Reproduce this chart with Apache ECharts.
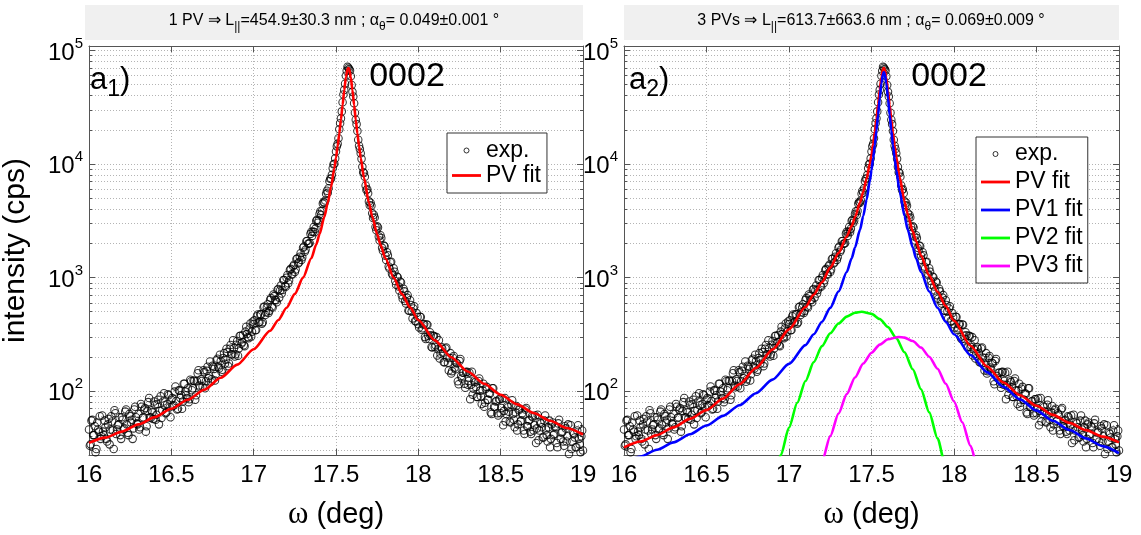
<!DOCTYPE html>
<html><head><meta charset="utf-8">
<script src="https://cdn.jsdelivr.net/npm/echarts@6/dist/echarts.min.js"></script>
<style>html,body{margin:0;padding:0;background:#fff}#c{width:1141px;height:535px}</style>
</head><body><div id="c"></div>
<script>
// ---- data ----
const omegaStart = 16.0;   // deg, first measured point
const omegaStep = 0.01;    // deg, grid step of each interleaved scan
const omegaOffsetB = 0.005; // deg, second interleaved set is shifted by half a step
const expScanA = [
46,34,56,41,29,53,44,38,61,41,
48,36,57,46,54,31,64,46,51,41,
59,46,66,51,41,60,56,47,73,52,
63,48,73,59,71,49,80,59,68,57,
76,62,84,67,58,81,75,65,94,72,
84,
74,99,82,70,101,92,81,116,92,106,
85,122,106,123,92,144,112,127,110,147,
122,164,136,121,167,157,141,193,158,184,
154,216,189,220,175,255,210,239,211,276,
238,307,269,253,334,319,292,394,334,389,
343,456,403,476,393,548,469,544,487,636,
556,709,636,605,794,768,725,953,842,996,
891,1163,1068,1260,1118,1454,1330,1525,1431,1833,
1686,2087,1981,2015,2531,2536,2511,3155,3040,3632,
3560,4477,4552,5465,5579,7051,7452,9164,10038,12869,
15031,20234,25193,34948,44897,59771,71896,68426,59179,43145,
34272,24474,19471,14474,12403,
9430,8312,6468,5987,4684,4565,3682,3577,2783,2832,
2300,2362,1826,1918,1556,1673,1250,1361,1086,1208,
931,1023,834,924,698,796,623,666,512,632,
504,534,414,488,389,
452,347,386,299,386,307,330,245,307,245,
299,234,194,245,218,180,242,178,196,143,
197,161,178,122,184,136,145,116,147,114,
145,114,93,124,109,89,129,90,102,73,
105,84,96,65,106,73,81,64,85,64,
86,67,54,74,66,53,83,56,65,45,
68,54,64,45,69,49,55,44,60,45,
61,47,37,53,48,39,61,41,48,32,
51,41,49,35,52,26,43,36,49,36,
51,27,31,43,39,32,50,34,40,30
];
const expScanB = [
33,55,41,49,31,46,60,40,44,55,
38,51,34,60,45,68,42,50,59,38,
56,47,69,43,63,53,38,69,59,51,
46,77,58,69,44,67,87,58,65,81,
56,77,51,90,68,96,64,77,92,59,
87,75,110,69,102,87,70,116,99,87,
80,126,102,124,84,122,153,108,123,153,
106,151,130,182,127,164,124,187,164,209,
148,196,174,236,166,236,211,280,202,256,
205,306,261,312,249,369,299,356,303,411,
420,346,473,406,474,405,556,495,583,509,
662,544,686,631,782,666,850,778,952,830,
1053,947,1192,1065,1295,1179,1469,1360,1635,1512,
1877,1760,2097,1988,2425,2327,2789,2695,3226,3176,
3839,3860,4631,4767,5808,6124,7397,8019,9934,11201,
14292,16873,22853,29034,40867,50912,66039,70340,66357,49671,
39298,28200,22421,16321,13570,
11091,8462,7705,5888,5514,4332,4287,3348,3384,2614,
2759,2117,2230,1724,1886,1428,1570,1202,1379,1047,
1124,866,1008,770,904,652,756,590,700,510,
574,437,558,411,450,
363,450,358,389,288,384,288,311,242,305,
253,206,280,213,236,180,237,198,152,216,
150,204,156,175,115,192,129,145,107,148,
123,85,148,105,120,89,123,101,77,116,
79,109,84,95,63,106,72,82,61,85,
71,50,87,63,72,54,76,63,48,74,
51,70,55,62,42,71,49,56,42,59,
50,35,62,45,52,39,55,46,36,55,
38,53,42,48,32,56,38,44,33,47,
40,28,50,36,42,32,45,38,29,45
];
const fitOmega = [16.0,16.1,16.2,16.3,16.4,16.5,16.6,16.7,16.8,16.9,17.0,17.1,17.15,17.2,17.25,17.3,
  17.35,17.38,17.4,17.43,17.45,17.47,17.49,
  17.5,17.51,17.52,17.53,17.54,17.55,17.56,17.57,17.575,
  17.58,17.59,17.6,17.61,17.62,17.63,17.64,17.65,
  17.67,17.7,17.72,17.75,17.77,17.8,17.85,17.9,17.95,
  18.0,18.1,18.2,18.3,18.4,18.5,18.6,18.7,18.8,18.9,19.0];
const pvFit1 = [35,39,44,51,59,70,84,103,131,171,234,340,423,542,718,998,
  1478,1953,2408,3451,4565,6297,9172,
  11358,14348,18533,24483,32945,44479,58019,68433,70004,
  68433,58019,44479,32945,24483,18533,14348,11358,
  7540,4565,3451,2408,1953,1478,998,718,546,
  423,280,199,149,116,93,76.5,64.2,54.8,47.4,41.5];
const pvFit3 = [32,36,41,48,57,68,86,115,160,232,350,550,707,910,1222,1640,
  2300,2850,3400,4550,5700,7400,10100,
  12000,14900,19100,25000,33500,44800,58000,68500,70000,
  68300,57500,43900,32900,24600,18800,14600,11600,
  7700,4700,3600,2550,2100,1560,1040,750,560,
  416,251,165,119,92,74.3,61.8,52.5,45.4,39.8,35.4];
const pv1Fit = [23.2,26.5,30.5,35.4,41.7,49.8,60.6,75.2,95.8,126.2,173.8,254.3,317,408,541,753,
  1119,1480,1839,2627,3486,4830,7088,
  8828,11240,14676,19692,27107,37780,51200,62270,64000,
  62270,51200,37780,27107,19692,14676,11240,8828,
  5803,3486,2627,1839,1480,1119,753,542,408,
  317,208,147,109,84.5,67.3,54.8,45.5,38.4,32.8,28.4];
const pv2Omega = [16.85,16.9,16.95,17.0,17.05,17.1,17.15,17.2,17.25,17.3,17.35,17.4,17.44,17.5,17.55,17.6,17.65,17.7,17.75,17.8,17.85,17.9,17.95,18.0];
const pv2Fit = [7.3,14.5,27.2,47.7,79,123,180,249,323,394,453,490,500,479,432,366,293,220,156,104,65,38.4,21.3,11.1];
const pv3Omega = [17.1,17.15,17.2,17.25,17.3,17.35,17.4,17.45,17.5,17.55,17.6,17.665,17.7,17.75,17.8,17.85,17.9,17.95,18.0,18.05,18.1,18.15,18.2];
const pv3Fit = [7.2,13.6,24,40.2,63.4,94.2,132,175,218,257,286,300,296,276,242,201,157.5,116,81,53.2,33,19.2,10.6];
const xTickValues = [16,16.5,17,17.5,18,18.5,19];
const yDecades = [100,1000,10000,100000];
const panelTitles = [
  '1 PV \u21D2 L{sub|||}=454.9\u00B130.3 nm ; \u03B1{sub|\u03B8}= 0.049\u00B10.001 \u00B0',
  '3 PVs \u21D2 L{sub|||}=613.7\u00B1663.6 nm ; \u03B1{sub|\u03B8}= 0.069\u00B10.009 \u00B0'
];
const panelTags = ['{a|a}{s|1}{a|)}', '{a|a}{s|2}{a|)}'];
const reflection = '0002';

// ---- build ----
const FF = '"Liberation Sans", Arial, Helvetica, sans-serif';
const expData = [];
expScanA.forEach((v, i) => {
  expData.push([+(omegaStart + i * omegaStep).toFixed(3), v]);
  if (i < expScanB.length) expData.push([+(omegaStart + omegaOffsetB + i * omegaStep).toFixed(3), expScanB[i]]);
});
const zip = (xs, ys) => xs.map((x, i) => [x, ys[i]]);
const YMIN = 27.4, YMAX = 109300;
const AX = '#555';
const gridStyle = {color: '#b4b4b4', type: [1, 2], width: 1};
const LINE_ICON = 'path://M0,0 L29,0 L29,2.8 L0,2.8 Z';

const grids = [
  {left: 85, top: 46, width: 498, height: 421},
  {left: 624, top: 46, width: 495, height: 421}
];

function xAxesFor(gi) {
  return [
    {type: 'value', gridIndex: gi, min: 16, max: 19, interval: 0.5, position: 'bottom',
     axisLine: {show: true, onZero: false, lineStyle: {color: AX, width: 1}},
     axisTick: {show: true, inside: true, length: 6, lineStyle: {color: AX}},
     axisLabel: {color: '#000', fontSize: 24, fontFamily: FF, margin: 8,
       formatter: v => xTickValues.indexOf(v) >= 0 ? String(v) : ''},
     splitLine: {show: true, lineStyle: gridStyle},
     name: '{w|\u03C9} (deg)', nameLocation: 'middle', nameGap: 44,
     nameTextStyle: {color: '#000', fontSize: 29, fontFamily: FF,
       rich: {w: {fontFamily: '"Liberation Serif", "DejaVu Serif", serif', fontSize: 31, color: '#000'}}}},
    {type: 'value', gridIndex: gi, min: 16, max: 19, interval: 0.5, position: 'top',
     axisLine: {show: true, onZero: false, lineStyle: {color: AX, width: 1}},
     axisTick: {show: true, inside: true, length: 6, lineStyle: {color: AX}},
     axisLabel: {show: false}, splitLine: {show: false}}
  ];
}
function yLabel(v) {
  for (const d of yDecades) {
    if (Math.abs(v - d) < 1e-6 * d) return '{b|10}{s|' + Math.round(Math.log10(d)) + '}';
  }
  return '';
}
function yAxesFor(gi, withName) {
  const a = {type: 'log', logBase: 10, gridIndex: gi, min: YMIN, max: YMAX, position: 'left',
     axisLine: {show: true, onZero: false, lineStyle: {color: AX, width: 1}},
     axisTick: {show: true, inside: true, length: 6, lineStyle: {color: AX}},
     minorTick: {show: true, splitNumber: 9, length: 3, lineStyle: {color: AX}},
     axisLabel: {color: '#000', margin: 6, formatter: yLabel,
       rich: {b: {fontSize: 24, fontFamily: FF, color: '#000', verticalAlign: 'bottom'},
              s: {fontSize: 15, fontFamily: FF, color: '#000', verticalAlign: 'bottom', padding: [0, 0, 14, 0]}}},
     splitLine: {show: true, lineStyle: gridStyle},
     minorSplitLine: {show: true, lineStyle: gridStyle}};
  if (withName) {
    a.name = 'intensity (cps)'; a.nameLocation = 'middle'; a.nameGap = 58;
    a.nameTextStyle = {color: '#000', fontSize: 30, fontFamily: FF};
  }
  const b = {type: 'log', logBase: 10, gridIndex: gi, min: YMIN, max: YMAX, position: 'right',
     axisLine: {show: true, onZero: false, lineStyle: {color: AX, width: 1}},
     axisTick: {show: true, inside: true, length: 6, lineStyle: {color: AX}},
     minorTick: {show: true, splitNumber: 9, length: 3, lineStyle: {color: AX}},
     axisLabel: {show: false}, splitLine: {show: false}, minorSplitLine: {show: false}};
  return [a, b];
}

const expSeries = (xi, yi) => ({
  name: 'exp.', type: 'scatter', xAxisIndex: xi, yAxisIndex: yi, data: expData,
  symbol: 'circle', symbolSize: 7.5, silent: true, large: false,
  itemStyle: {color: 'rgba(0,0,0,0)', borderColor: '#000', borderWidth: 1.05}, z: 2
});
const lineSeries = (name, xi, yi, data, color, z) => ({
  name, type: 'line', xAxisIndex: xi, yAxisIndex: yi, data, showSymbol: false, symbol: 'none',
  smooth: 0.25, smoothMonotone: 'x', silent: true, clip: true,
  lineStyle: {color, width: 2.6}, itemStyle: {color}, z
});
const lineItem = (name, color) => ({name, icon: LINE_ICON, itemStyle: {color, borderWidth: 0}});
const expItem = {name: 'exp.', icon: 'circle', itemStyle: {color: '#fff', borderColor: '#000', borderWidth: 1}};

const legendBase = {orient: 'vertical', backgroundColor: '#fff', borderColor: '#333', borderWidth: 1,
  itemWidth: 29, itemHeight: 5, itemGap: 0, selectedMode: false, symbolKeepAspect: true,
  textStyle: {fontSize: 23, fontFamily: FF, color: '#000'}};

const option = {
  animation: false,
  backgroundColor: '#fff',
  grid: grids,
  xAxis: [...xAxesFor(0), ...xAxesFor(1)],
  yAxis: [...yAxesFor(0, true), ...yAxesFor(1, false)],
  legend: [
    Object.assign({}, legendBase, {left: 447, top: 133, padding: [5, 6, 5, 5],
      textStyle: Object.assign({}, legendBase.textStyle, {lineHeight: 25}),
      data: [expItem, lineItem('PV fit', '#ff0000')]}),
    Object.assign({}, legendBase, {left: 976, top: 137, padding: [3, 5, 3, 5],
      textStyle: Object.assign({}, legendBase.textStyle, {lineHeight: 28}),
      data: [expItem, lineItem('PV fit', '#ff0000'), lineItem('PV1 fit', '#0000ff'),
             lineItem('PV2 fit', '#00ff00'), lineItem('PV3 fit', '#ff00ff')]})
  ],
  graphic: [
    {type: 'rect', shape: {x: 85, y: 5, width: 498, height: 35}, style: {fill: '#f0f0f0'}, silent: true},
    {type: 'rect', shape: {x: 624, y: 5, width: 495, height: 35}, style: {fill: '#f0f0f0'}, silent: true},
    {type: 'text', x: 334, y: 21, silent: true, style: {text: panelTitles[0], align: 'center', verticalAlign: 'middle',
      fontSize: 16, fontFamily: FF, fill: '#000',
      rich: {sub: {fontSize: 12, fontFamily: FF, fill: '#000', padding: [12, 0, 0, 0]}}}},
    {type: 'text', x: 871, y: 21, silent: true, style: {text: panelTitles[1], align: 'center', verticalAlign: 'middle',
      fontSize: 16, fontFamily: FF, fill: '#000',
      rich: {sub: {fontSize: 12, fontFamily: FF, fill: '#000', padding: [12, 0, 0, 0]}}}},
    {type: 'text', x: 90, y: 80, silent: true, z: 10, style: {text: panelTags[0], align: 'left', verticalAlign: 'middle',
      fill: '#000', rich: {a: {fontSize: 31, fontFamily: FF, fill: '#000'}, s: {fontSize: 23, fontFamily: FF, fill: '#000', padding: [20, 0, 0, 0]}}}},
    {type: 'text', x: 629, y: 80, silent: true, z: 10, style: {text: panelTags[1], align: 'left', verticalAlign: 'middle',
      fill: '#000', rich: {a: {fontSize: 31, fontFamily: FF, fill: '#000'}, s: {fontSize: 23, fontFamily: FF, fill: '#000', padding: [20, 0, 0, 0]}}}},
    {type: 'text', x: 407, y: 77, silent: true, z: 10, style: {text: reflection, align: 'center', verticalAlign: 'middle',
      fontSize: 34, fontFamily: FF, fill: '#000'}},
    {type: 'text', x: 949, y: 77, silent: true, z: 10, style: {text: reflection, align: 'center', verticalAlign: 'middle',
      fontSize: 34, fontFamily: FF, fill: '#000'}}
  ],
  series: [
    expSeries(0, 0),
    lineSeries('PV fit', 0, 0, zip(fitOmega, pvFit1), '#ff0000', 5),
    expSeries(2, 2),
    lineSeries('PV fit', 2, 2, zip(fitOmega, pvFit3), '#ff0000', 5),
    lineSeries('PV1 fit', 2, 2, zip(fitOmega, pv1Fit), '#0000ff', 6),
    lineSeries('PV2 fit', 2, 2, zip(pv2Omega, pv2Fit), '#00ff00', 7),
    lineSeries('PV3 fit', 2, 2, zip(pv3Omega, pv3Fit), '#ff00ff', 8)
  ]
};
const chart = echarts.init(document.getElementById('c'), null, {renderer: 'canvas'});
chart.setOption(option);
</script>
</body></html>
